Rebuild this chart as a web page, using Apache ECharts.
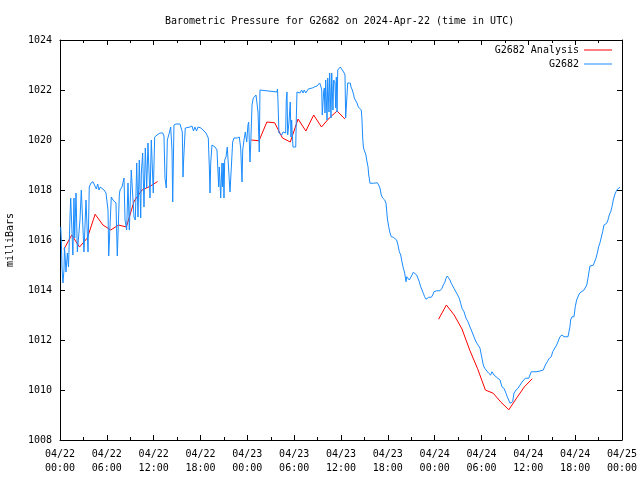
<!DOCTYPE html>
<html>
<head>
<meta charset="utf-8">
<script src="https://cdn.jsdelivr.net/npm/echarts@6/dist/echarts.min.js"></script>
<style>
html,body{margin:0;padding:0;background:#fff;}
#chart{width:640px;height:480px;}
</style>
</head>
<body>
<div id="chart"></div>
<script>
// Hours since 2024-04-22 00:00 UTC
const xTickLabels = ['04/22\n00:00','04/22\n06:00','04/22\n12:00','04/22\n18:00','04/23\n00:00','04/23\n06:00','04/23\n12:00','04/23\n18:00','04/24\n00:00','04/24\n06:00','04/24\n12:00','04/24\n18:00','04/25\n00:00'];

const obsHours = [0.09,0.17,0.26,0.38,0.51,0.58,0.77,0.94,1.09,1.28,1.37,1.62,1.65,1.79,1.88,2.05,2.22,2.43,2.56,2.73,2.91,2.95,3.07,3.24,3.33,3.50,3.59,3.75,3.97,4.23,4.48,4.65,4.83,5.00,5.16,5.38,5.64,5.89,6.15,6.24,6.41,6.57,6.79,7.17,7.34,7.60,7.69,7.94,8.20,8.33,8.54,8.71,8.88,9.13,9.35,9.48,9.65,9.83,9.99,10.16,10.34,10.42,10.59,10.76,10.93,11.11,11.27,11.53,11.70,11.95,12.13,12.43,12.81,13.16,13.32,13.45,13.62,13.75,14.00,14.18,14.35,14.44,14.60,14.86,15.37,15.59,15.67,15.76,15.82,15.97,16.05,16.65,16.91,17.10,17.29,17.49,17.68,18.06,18.32,18.70,19.00,19.13,19.22,19.31,19.47,19.86,20.11,20.33,20.41,20.59,20.75,20.84,20.92,21.01,21.10,21.27,21.43,21.61,21.78,21.95,22.12,22.29,22.71,22.97,23.15,23.32,23.41,23.57,23.74,23.92,24.08,24.17,24.34,24.43,24.60,24.76,24.94,25.11,25.28,25.37,25.53,25.62,25.79,27.80,27.86,27.93,28.05,28.40,28.57,28.91,28.99,29.08,29.17,29.34,29.50,29.59,29.68,29.76,29.85,30.20,30.27,30.36,30.75,30.96,31.13,31.30,31.48,31.64,31.81,32.32,32.58,32.92,33.09,33.27,33.44,33.53,33.60,33.78,33.86,33.95,34.04,34.21,34.30,34.37,34.46,34.55,34.72,34.81,34.97,35.06,35.23,35.32,35.40,35.49,35.58,35.74,35.91,36.13,36.34,36.51,36.60,36.77,36.86,37.02,37.19,37.28,37.45,37.63,37.70,37.88,38.05,38.22,38.43,38.60,38.69,38.78,38.88,39.03,39.20,39.29,39.46,39.55,39.62,39.71,39.88,40.14,40.39,40.65,40.83,40.99,41.16,41.34,41.51,41.60,41.76,41.85,41.93,42.11,42.28,42.44,42.70,42.95,43.13,43.30,43.47,43.65,43.81,43.98,44.16,44.33,44.42,44.58,44.75,44.93,45.10,45.26,45.44,45.70,45.86,46.03,46.21,46.38,46.54,46.72,46.89,47.05,47.23,47.40,47.57,47.75,47.91,48.08,48.26,48.51,48.68,48.94,49.10,49.28,49.45,49.62,49.79,49.96,50.13,50.31,50.47,50.64,50.82,50.99,51.15,51.33,51.50,51.76,52.01,52.27,52.53,52.78,53.04,53.30,53.55,53.81,54.06,54.23,54.41,54.66,54.92,55.18,55.34,55.60,55.86,56.11,56.37,56.62,56.88,57.14,57.30,57.48,57.65,57.82,57.99,58.16,58.42,58.68,58.93,59.19,59.36,59.61,59.79,60.05,60.21,60.38,60.98,61.49,61.92,62.17,62.43,62.68,62.94,63.12,63.37,63.63,63.89,64.05,64.31,64.57,64.82,65.08,65.25,65.33,65.42,65.59,65.85,66.01,66.19,66.45,66.62,66.87,67.13,67.30,67.48,67.64,67.81,67.90,68.32,68.50,68.66,68.83,69.01,69.18,69.35,69.52,69.69,69.86,70.04,70.20,70.37,70.55,70.72,70.88,71.06,71.23,71.40,71.58,71.74];

const obsPressure = [1016.52,1016.0,1014.88,1014.28,1014.8,1015.72,1014.72,1015.48,1014.92,1016.92,1017.68,1017.68,1015.4,1017.68,1016.08,1017.88,1015.52,1015.52,1016.8,1018.0,1018.08,1016.4,1015.52,1015.52,1017.6,1017.6,1015.52,1018.12,1018.28,1018.33,1018.28,1018.04,1018.24,1018.0,1018.12,1018.08,1018.0,1017.88,1017.2,1015.36,1015.36,1017.72,1017.6,1017.48,1015.36,1017.8,1018.0,1018.12,1018.48,1016.8,1016.4,1018.28,1016.4,1018.8,1018.8,1016.92,1016.8,1019.08,1016.92,1019.2,1016.88,1018.68,1019.48,1017.32,1019.68,1018.08,1019.88,1017.68,1020.0,1017.88,1020.12,1020.2,1020.28,1020.28,1020.16,1018.48,1018.08,1020.0,1020.28,1020.52,1019.6,1017.52,1020.6,1020.64,1020.64,1020.72,1020.32,1018.52,1019.08,1020.0,1020.48,1020.52,1020.56,1020.36,1020.52,1020.36,1020.52,1020.48,1020.4,1020.28,1020.08,1018.92,1017.88,1019.08,1019.8,1019.72,1019.6,1018.12,1018.92,1017.68,1019.08,1018.12,1019.08,1017.68,1019.2,1019.32,1019.72,1019.8,1017.92,1017.92,1019.92,1020.08,1020.08,1020.12,1019.68,1018.32,1019.6,1020.0,1020.32,1019.92,1020.6,1020.72,1019.12,1019.8,1021.4,1021.68,1021.72,1021.8,1021.88,1021.12,1019.52,1022.0,1021.92,1021.92,1022.04,1021.52,1020.28,1020.2,1020.32,1020.28,1021.6,1021.92,1020.2,1020.72,1021.52,1020.12,1020.8,1020.2,1019.72,1019.72,1020.8,1021.92,1021.88,1022.0,1021.88,1022.0,1021.88,1021.96,1022.04,1022.08,1022.12,1022.16,1022.2,1022.28,1022.12,1022.0,1021.0,1021.92,1022.08,1021.08,1022.4,1020.8,1022.48,1022.48,1021.12,1022.68,1020.88,1022.68,1021.2,1022.4,1022.28,1021.28,1022.52,1021.12,1022.8,1022.88,1022.92,1022.88,1022.72,1022.6,1020.88,1020.88,1022.28,1022.32,1022.28,1022.12,1022.0,1021.8,1021.68,1021.6,1021.48,1021.32,1021.28,1021.2,1020.8,1020.08,1019.68,1019.6,1019.4,1019.2,1018.93,1018.6,1018.48,1018.27,1018.24,1018.27,1018.32,1018.29,1018.2,1018.08,1017.8,1017.68,1017.73,1017.6,1017.48,1017.2,1016.88,1016.53,1016.28,1016.13,1016.11,1016.08,1016.0,1015.8,1015.53,1015.4,1015.13,1014.88,1014.68,1014.33,1014.53,1014.6,1014.4,1014.47,1014.6,1014.71,1014.64,1014.6,1014.53,1014.33,1014.13,1014.0,1013.87,1013.73,1013.63,1013.6,1013.71,1013.63,1013.71,1013.8,1013.93,1014.0,1013.97,1013.92,1013.97,1014.07,1014.2,1014.29,1014.47,1014.56,1014.58,1014.4,1014.27,1014.2,1014.07,1014.0,1013.87,1013.8,1013.67,1013.47,1013.27,1013.13,1012.88,1012.73,1012.52,1012.33,1012.12,1011.93,1011.8,1011.67,1011.27,1011.0,1010.87,1010.8,1010.67,1010.6,1010.73,1010.6,1010.53,1010.51,1010.4,1010.13,1010.07,1009.87,1009.73,1009.6,1009.47,1009.4,1009.53,1009.87,1010.0,1010.07,1010.13,1010.32,1010.33,1010.47,1010.4,1010.47,1010.6,1010.73,1010.73,1010.76,1010.8,1011.0,1011.13,1011.27,1011.33,1011.53,1011.6,1011.8,1012.0,1012.13,1012.2,1012.13,1012.2,1012.13,1012.4,1012.53,1012.8,1012.93,1012.93,1013.33,1013.6,1013.8,1013.89,1013.93,1014.0,1014.07,1014.2,1014.47,1014.8,1014.96,1014.99,1015.07,1015.27,1015.47,1015.73,1015.89,1015.92,1016.33,1016.6,1016.67,1016.67,1016.8,1017.0,1017.13,1017.33,1017.6,1017.8,1017.93,1018.03,1018.07,1018.11];

// Analysis (hourly), null marks gaps between runs
const anaHours = [0.5,1.5,2.5,3.5,4.5,5.5,6.5,7.5,8.5,9.5,10.5,11.5,12.5,18,24.5,25.5,26.5,27.5,28.5,29.5,30.5,31.5,32.5,33.5,34.5,35.5,36.5,42,48.5,49.5,50.5,51.5,52.5,53.5,54.5,55.5,56.5,57.5,58.5,59.5,60.5];
const anaPressure = [1015.63,1016.2,1015.72,1016.08,1017.03,1016.6,1016.4,1016.6,1016.52,1017.56,1018.0,1018.14,1018.34,null,1020.0,1019.97,1020.72,1020.69,1020.08,1019.92,1020.84,1020.36,1021.0,1020.52,1020.88,1021.16,1020.84,null,1012.83,1013.4,1013.0,1012.44,1011.59,1010.85,1010.0,1009.87,1009.51,1009.21,1009.68,1010.13,1010.45];

const yMin = 1008, yMax = 1024, yStep = 2;
const FONT = 'DejaVu Sans Mono';
const RED = '#ff0000', BLUE = '#1a8cff';

const obsData = obsHours.map((h, i) => [h, obsPressure[i]]);
const anaData = anaHours.map((h, i) => [h, anaPressure[i] === null ? '-' : anaPressure[i]]);

const chart = echarts.init(document.getElementById('chart'), null, {renderer: 'canvas'});

function xAxisCfg(pos, showLabel) {
  return {
    type: 'value', position: pos, min: 0, max: 72, interval: 6,
    axisLine: {show: true, onZero: false, lineStyle: {color: '#000', width: 1}},
    axisTick: {show: true, inside: true, length: 5, lineStyle: {color: '#000'}},
    minorTick: {show: true, splitNumber: 2, length: 3, lineStyle: {color: '#000'}},
    splitLine: {show: false},
    axisLabel: {
      show: showLabel, margin: 7, color: '#000', fontFamily: FONT, fontSize: 10, lineHeight: 14,
      formatter: v => xTickLabels[Math.round(v / 6)]
    }
  };
}
function yAxisCfg(pos, showLabel) {
  const c = {
    type: 'value', position: pos, min: yMin, max: yMax, interval: yStep,
    axisLine: {show: true, onZero: false, lineStyle: {color: '#000', width: 1}},
    axisTick: {show: true, inside: true, length: 5, lineStyle: {color: '#000'}},
    splitLine: {show: false},
    axisLabel: {show: showLabel, margin: 8, color: '#000', fontFamily: FONT, fontSize: 10,
      formatter: v => String(v)}
  };
  if (showLabel) {
    c.name = 'milliBars';
    c.nameLocation = 'middle';
    c.nameGap = 45;
    c.nameRotate = 90;
    c.nameTextStyle = {color: '#000', fontFamily: FONT, fontSize: 10};
  }
  return c;
}

const legendBase = {
  orient: 'vertical', align: 'right', icon: 'rect', itemWidth: 28, itemHeight: 1,
  padding: 0, selectedMode: false, right: 28,
  textStyle: {color: '#000', fontFamily: FONT, fontSize: 10}
};

chart.setOption({
  animation: false,
  backgroundColor: '#fff',
  title: {
    text: 'Barometric Pressure for G2682 on 2024-Apr-22 (time in UTC)',
    left: 165, top: 16, padding: 0,
    textStyle: {color: '#000', fontFamily: FONT, fontSize: 10, fontWeight: 'normal'}
  },
  legend: [
    Object.assign({}, legendBase, {data: ['G2682 Analysis'], top: 45}),
    Object.assign({}, legendBase, {data: ['G2682'], top: 59})
  ],
  grid: {left: 60, right: 18, top: 40, bottom: 40, containLabel: false, outerBoundsMode: 'none'},
  xAxis: [xAxisCfg('bottom', true), xAxisCfg('top', false)],
  yAxis: [yAxisCfg('left', true), yAxisCfg('right', false)],
  series: [
    {
      name: 'G2682 Analysis', type: 'line', data: anaData, symbol: 'none', showSymbol: false,
      connectNulls: false, lineStyle: {color: RED, width: 1}, itemStyle: {color: RED}, z: 2
    },
    {
      name: 'G2682', type: 'line', data: obsData, symbol: 'none', showSymbol: false,
      lineStyle: {color: BLUE, width: 1}, itemStyle: {color: BLUE}, z: 3
    }
  ]
});
</script>
</body>
</html>
